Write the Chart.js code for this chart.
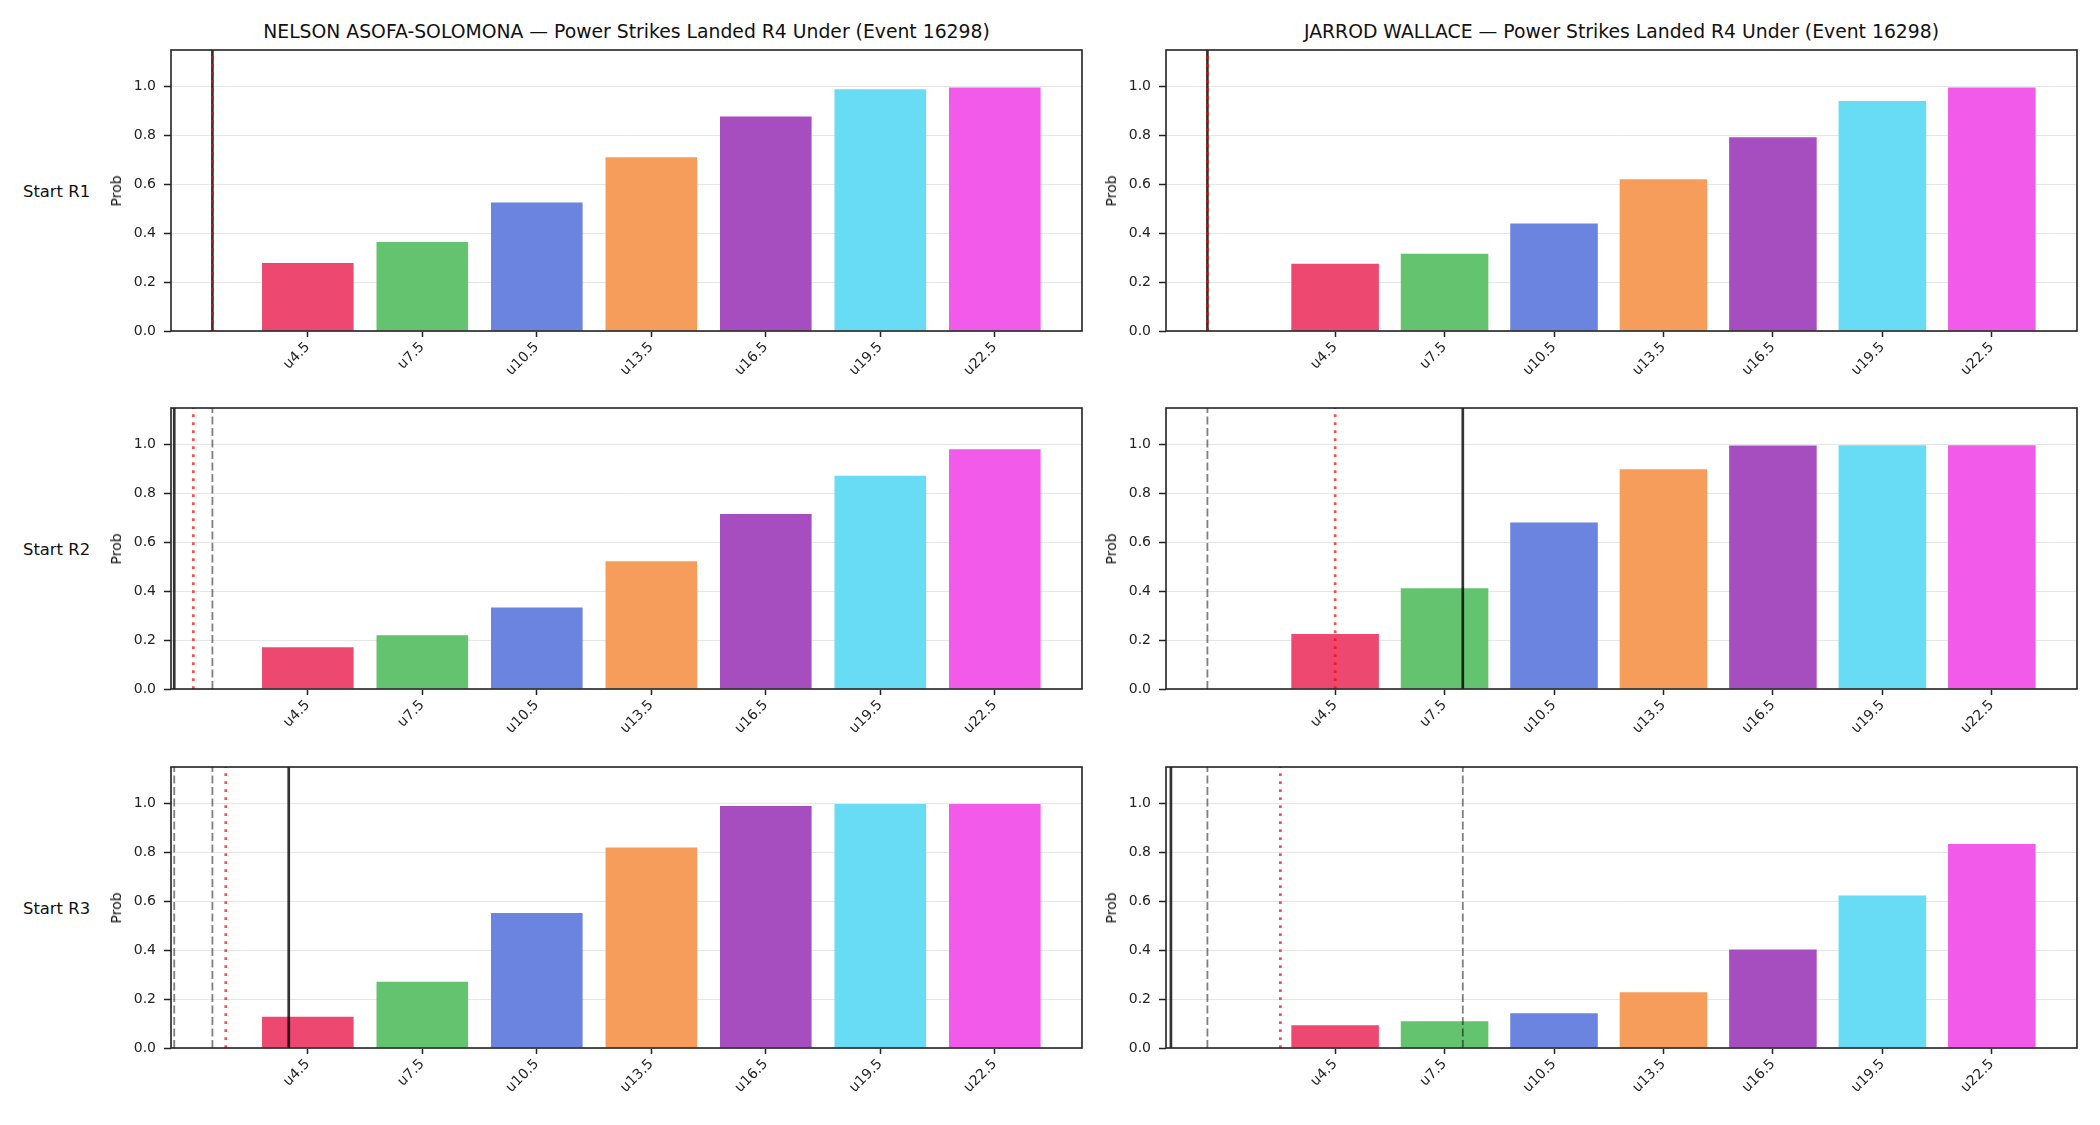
<!DOCTYPE html>
<html><head><meta charset="utf-8">
<script src="https://cdn.jsdelivr.net/npm/chart.js@4.4.0/dist/chart.umd.min.js"></script>
<style>
html,body{margin:0;padding:0;background:#fff;}
#page{position:relative;width:2100px;height:1125px;overflow:hidden;font-family:"DejaVu Sans",sans-serif;color:#111;}
canvas{position:absolute;}
.title{position:absolute;font-size:18.8px;white-space:nowrap;transform:translate(-50%,-50%);}
.row{position:absolute;font-size:16.4px;white-space:nowrap;transform:translateY(-50%);}
.ylab{position:absolute;font-size:14px;white-space:nowrap;transform:translate(-50%,-50%) rotate(-90deg);}
</style></head><body><div id="page"></div>
<script>
// ---------------- data ----------------
const categories = ["u4.5","u7.5","u10.5","u13.5","u16.5","u19.5","u22.5"];
const thresholds = [4.5,7.5,10.5,13.5,16.5,19.5,22.5];
const yTicks = [0,0.2,0.4,0.6,0.8,1.0];
const fighters = ["NELSON ASOFA-SOLOMONA","JARROD WALLACE"];
const titleSuffix = " \u2014 Power Strikes Landed R4 Under (Event 16298)";
const rowLabels = ["Start R1","Start R2","Start R3"];

const nelsonR1 = [0.278,0.364,0.526,0.711,0.878,0.989,0.997];
const nelsonR2 = [0.171,0.220,0.334,0.523,0.716,0.873,0.981];
const nelsonR3 = [0.128,0.271,0.552,0.821,0.990,0.999,0.999];
const jarrodR1 = [0.275,0.316,0.440,0.621,0.793,0.941,0.997];
const jarrodR2 = [0.225,0.412,0.681,0.899,0.997,0.998,0.998];
const jarrodR3 = [0.093,0.109,0.142,0.228,0.403,0.624,0.835];

// vertical reference lines, in strikes
const nelsonR1Solid = [2],  nelsonR1Dashed = [],     nelsonR1Dotted = [2];
const nelsonR2Solid = [1],  nelsonR2Dashed = [2],    nelsonR2Dotted = [1.5];
const nelsonR3Solid = [4],  nelsonR3Dashed = [1, 2], nelsonR3Dotted = [2.35];
const jarrodR1Solid = [1],  jarrodR1Dashed = [],     jarrodR1Dotted = [1];
const jarrodR2Solid = [8],  jarrodR2Dashed = [1],    jarrodR2Dotted = [4.5];
const jarrodR3Solid = [0],  jarrodR3Dashed = [1, 8], jarrodR3Dotted = [3];

const xRangeLeft = [0.915, 24.785];
const xRangeRight = [-0.135, 24.835];
const yMax = 1.15;

const barColors = ['#ED4870','#63C36F','#6A84DF','#F79D5C','#A64DBF','#68DCF5','#F25BE9'];

// ---------------- layout ----------------
const page = document.getElementById('page');
const colAxesLeft = [171, 1166];
const axesWidth = 911;
const rowAxesTop = [50, 408, 767];
const axesHeight = 281;
const yAxisW = 71, xAxisH = 60, padTop = 10, padRight = 8;

const panels = [
  [nelsonR1, nelsonR1Solid, nelsonR1Dashed, nelsonR1Dotted, 0, 0],
  [nelsonR2, nelsonR2Solid, nelsonR2Dashed, nelsonR2Dotted, 0, 1],
  [nelsonR3, nelsonR3Solid, nelsonR3Dashed, nelsonR3Dotted, 0, 2],
  [jarrodR1, jarrodR1Solid, jarrodR1Dashed, jarrodR1Dotted, 1, 0],
  [jarrodR2, jarrodR2Solid, jarrodR2Dashed, jarrodR2Dotted, 1, 1],
  [jarrodR3, jarrodR3Solid, jarrodR3Dashed, jarrodR3Dotted, 1, 2],
];

function addText(cls, txt, x, y) {
  const d = document.createElement('div');
  d.className = cls; d.textContent = txt;
  d.style.left = x + 'px'; d.style.top = y + 'px';
  page.appendChild(d);
}

fighters.forEach((f, c) => {
  addText('title', f + titleSuffix, colAxesLeft[c] + axesWidth / 2, 31);
});
rowLabels.forEach((r, i) => {
  addText('row', r, 23, rowAxesTop[i] + axesHeight / 2);
});

const framePlugin = {
  id: 'frame',
  afterDraw(chart) {
    const a = chart.chartArea, ctx = chart.ctx;
    ctx.save();
    ctx.strokeStyle = '#222';
    ctx.lineWidth = 1.6;
    ctx.strokeRect(a.left, a.top, a.right - a.left, a.bottom - a.top);
    ctx.restore();
  }
};

function vline(v, color, width, dash, order) {
  return {
    type: 'line',
    data: [{x: v, y: 0}, {x: v, y: yMax}],
    borderColor: color, borderWidth: width, borderDash: dash,
    borderCapStyle: 'butt', pointRadius: 0, tension: 0, fill: false, order: order
  };
}

panels.forEach(([vals, solid, dashed, dotted, c, r]) => {
  const cv = document.createElement('canvas');
  const left = colAxesLeft[c] - yAxisW;
  const top = rowAxesTop[r] - padTop;
  const w = yAxisW + axesWidth + padRight;
  const h = padTop + axesHeight + xAxisH;
  cv.width = w; cv.height = h;
  cv.style.left = left + 'px'; cv.style.top = top + 'px';
  cv.style.width = w + 'px'; cv.style.height = h + 'px';
  page.appendChild(cv);
  addText('ylab', 'Prob', colAxesLeft[c] - 55, rowAxesTop[r] + axesHeight / 2);

  const range = c === 0 ? xRangeLeft : xRangeRight;
  const datasets = [{
    type: 'bar',
    data: thresholds.map((t, i) => ({x: t, y: vals[i]})),
    backgroundColor: barColors,
    borderWidth: 0,
    categoryPercentage: 0.8,
    barPercentage: 1.0,
    order: 10
  }];
  dashed.forEach(v => datasets.push(vline(v, 'rgba(0,0,0,0.5)', 1.8, [8, 3.5], 3)));
  solid.forEach(v => datasets.push(vline(v, 'rgba(0,0,0,0.8)', 2.7, [], 2)));
  dotted.forEach(v => datasets.push(vline(v, 'rgba(255,0,0,0.7)', 2.7, [2.7, 5.3], 1)));

  new Chart(cv, {
    type: 'bar',
    data: {datasets},
    plugins: [framePlugin],
    options: {
      responsive: false, animation: false, events: [],
      devicePixelRatio: 1,
      layout: {padding: {top: padTop, right: padRight, bottom: 0, left: 0}},
      plugins: {legend: {display: false}, tooltip: {enabled: false}, title: {display: false}},
      scales: {
        x: {
          type: 'linear', min: range[0], max: range[1], offset: false,
          afterBuildTicks: s => { s.ticks = thresholds.map(v => ({value: v})); },
          afterFit: s => { s.height = xAxisH; s.paddingLeft = 0; s.paddingRight = 0; },
          border: {display: false},
          grid: {display: true, offset: false, drawOnChartArea: false, drawTicks: true, tickLength: 6, tickColor: '#222', tickWidth: 1.5},
          ticks: {
            autoSkip: false, minRotation: 45, maxRotation: 45, padding: 2,
            color: '#222', font: {family: 'DejaVu Sans', size: 14},
            callback: v => categories[thresholds.indexOf(v)]
          }
        },
        y: {
          type: 'linear', min: 0, max: yMax,
          afterBuildTicks: s => { s.ticks = yTicks.map(v => ({value: v})); },
          afterFit: s => { s.width = yAxisW; s.paddingTop = 0; s.paddingBottom = 0; },
          border: {display: false},
          grid: {color: '#e6e6e6', lineWidth: 1, drawTicks: true, tickLength: 7, tickColor: '#222', tickWidth: 1.5},
          ticks: {
            padding: 8, color: '#222', font: {family: 'DejaVu Sans', size: 14},
            callback: v => Number(v).toFixed(1)
          }
        }
      }
    }
  });
});
</script></body></html>
